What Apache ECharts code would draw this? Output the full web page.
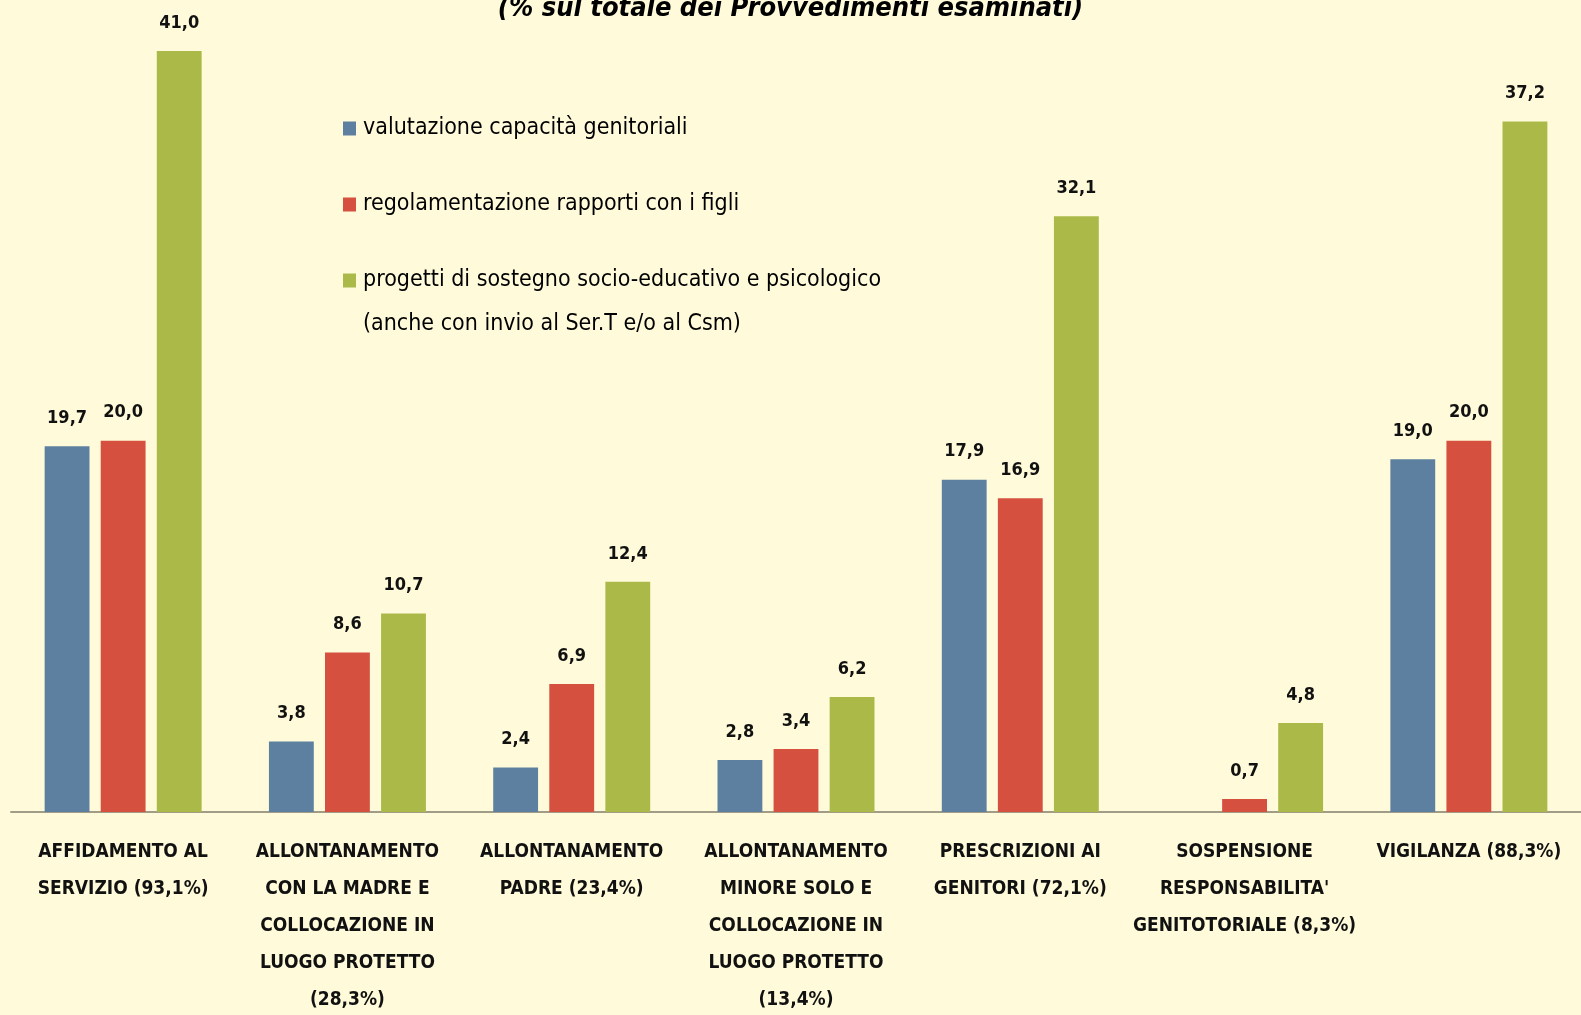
<!DOCTYPE html>
<html>
<head>
<meta charset="utf-8">
<script src="https://cdn.jsdelivr.net/npm/echarts@6/dist/echarts.min.js"></script>
<style>
  html, body { margin: 0; padding: 0; background: #fffbda; }
  #chart { width: 1581px; height: 1015px; }
</style>
</head>
<body>
<div id="chart"></div>
<script>
const categories = [
  "AFFIDAMENTO AL\nSERVIZIO (93,1%)",
  "ALLONTANAMENTO\nCON LA MADRE E\nCOLLOCAZIONE IN\nLUOGO PROTETTO\n(28,3%)",
  "ALLONTANAMENTO\nPADRE (23,4%)",
  "ALLONTANAMENTO\nMINORE SOLO E\nCOLLOCAZIONE IN\nLUOGO PROTETTO\n(13,4%)",
  "PRESCRIZIONI AI\nGENITORI (72,1%)",
  "SOSPENSIONE\nRESPONSABILITA'\nGENITOTORIALE (8,3%)",
  "VIGILANZA (88,3%)"
];
const seriesNames = [
  "valutazione capacità genitoriali",
  "regolamentazione rapporti con i figli",
  "progetti di sostegno socio-educativo e psicologico\n(anche con invio al Ser.T e/o al Csm)"
];
const valutazione = [19.7, 3.8, 2.4, 2.8, 17.9, "-", 19.0];
const regolamentazione = [20.0, 8.6, 6.9, 3.4, 16.9, 0.7, 20.0];
const progetti = [41.0, 10.7, 12.4, 6.2, 32.1, 4.8, 37.2];
const colors = ["#5e80a0", "#d5503f", "#abb948"];

const font = "'Liberation Sans Narrow', 'DejaVu Sans Condensed', sans-serif";

const chart = echarts.init(document.getElementById("chart"));

const barLabel = {
  show: true,
  position: "top",
  distance: 19,
  fontFamily: font,
  fontWeight: "bold",
  fontSize: 18,
  color: "#111",
  formatter: (p) => p.value.toFixed(1).replace(".", ",")
};

const makeBar = (name, data, color) => ({
  name: name,
  type: "bar",
  data: data,
  barGap: "25%",
  barCategoryGap: "30%",
  itemStyle: { color: color },
  label: barLabel
});

// quadratini disegnati nel testo, cosi' l'icona resta sulla prima riga
const legendRich = {
  t: { fontFamily: font, fontSize: 23, color: "#000", lineHeight: 44, padding: [0, 0, 0, 7] },
  t2: { fontFamily: font, fontSize: 23, color: "#000", lineHeight: 44, padding: [0, 0, 0, 20] }
};
colors.forEach((c, i) => {
  legendRich["sq" + i] = { backgroundColor: c, width: 13, height: 14 };
});

chart.setOption({
  backgroundColor: "#fffbda",
  textStyle: { fontFamily: font },
  title: {
    text: "(% sul totale dei Provvedimenti esaminati)",
    left: "center",
    top: -10,
    textStyle: {
      fontFamily: font,
      fontSize: 27,
      fontWeight: "bold",
      fontStyle: "italic",
      color: "#000"
    }
  },
  legend: {
    orient: "vertical",
    left: 333,
    top: 112,
    itemGap: 53,
    icon: "none",
    itemWidth: 0,
    itemHeight: 0,
    data: seriesNames,
    formatter: (name) => {
      const i = seriesNames.indexOf(name);
      const lines = name.split("\n");
      let s = "{sq" + i + "|}{t|" + lines[0] + "}";
      for (let k = 1; k < lines.length; k++) s += "\n{t2|" + lines[k] + "}";
      return s;
    },
    textStyle: { rich: legendRich }
  },
  grid: { left: 11, right: 0, top: 0, bottom: 203, outerBoundsMode: "none" },
  xAxis: {
    type: "category",
    data: categories,
    axisLine: { lineStyle: { color: "#a09c88", width: 2 } },
    axisTick: { show: false },
    axisLabel: {
      interval: 0,
      margin: 22,
      fontFamily: font,
      fontWeight: "bold",
      fontSize: 19,
      lineHeight: 37,
      color: "#111"
    }
  },
  yAxis: {
    type: "value",
    min: 0,
    max: 43.75,
    show: false,
    splitLine: { show: false }
  },
  series: [
    makeBar(seriesNames[0], valutazione, colors[0]),
    makeBar(seriesNames[1], regolamentazione, colors[1]),
    makeBar(seriesNames[2], progetti, colors[2])
  ]
});
</script>
</body>
</html>
